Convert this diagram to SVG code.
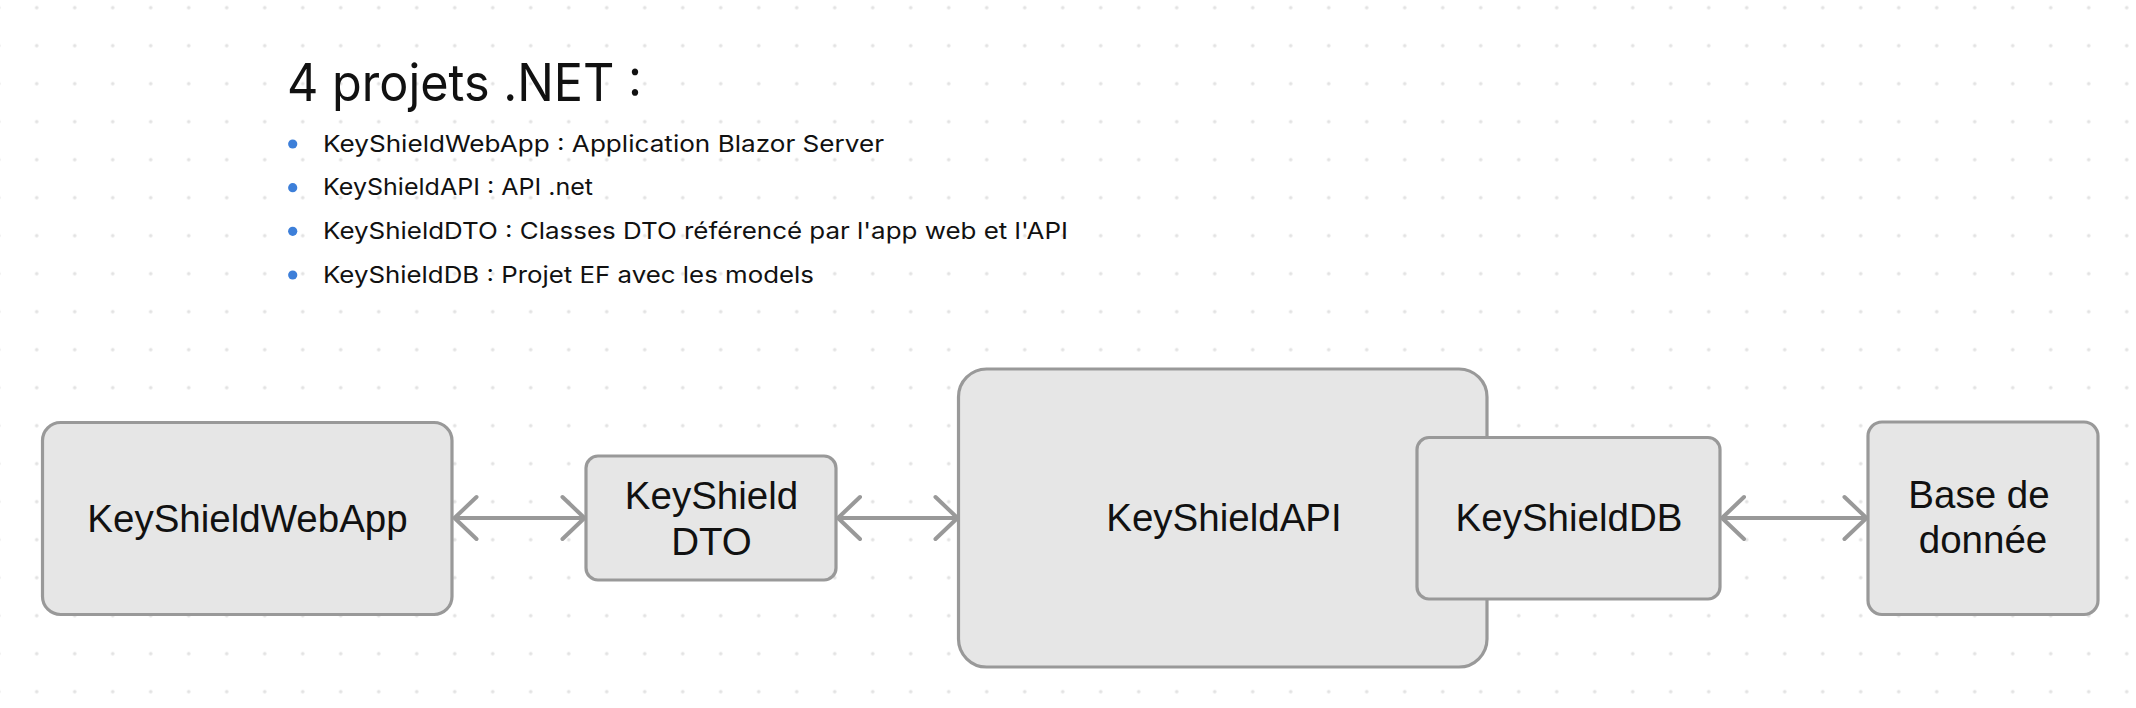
<svg xmlns="http://www.w3.org/2000/svg" width="2136" height="708" viewBox="0 0 2136 708">
<defs>
  <pattern id="dots" x="17.7" y="-11.3" width="38" height="38" patternUnits="userSpaceOnUse">
    <circle cx="19" cy="19" r="1.8" fill="#e2e2e2"/>
  </pattern>
  <marker id="chev" markerUnits="userSpaceOnUse" markerWidth="32" markerHeight="52" viewBox="-28 -26 32 52" refX="0" refY="0" orient="auto-start-reverse">
    <path d="M-22,-21 L0,0 L-22,21" fill="none" stroke="#999999" stroke-width="4" stroke-linecap="round" stroke-linejoin="round"/>
  </marker>
  <style>
    .box { fill: #e6e6e6; stroke: #999999; stroke-width: 3.2; }
    .lbl { font-family: "Liberation Sans", Arial, sans-serif; font-size: 38.5px; fill: #111111; text-anchor: middle; }
    .title { font-family: Inter, "Noto Sans", sans-serif; font-size: 52px; fill: #111111; }
    .item { font-family: Inter, "Noto Sans", sans-serif; font-size: 23px; fill: #111111; }
    .bullet { fill: #3d7fd9; }
    .conn { stroke: #999999; stroke-width: 4; fill: none; marker-start: url(#chev); marker-end: url(#chev); }
  </style>
</defs>
<rect width="2136" height="708" fill="#ffffff"/>
<rect width="2136" height="708" fill="url(#dots)"/>

<g id="notes">
  <text class="title" x="287" y="101" textLength="355" lengthAdjust="spacingAndGlyphs">4 projets .NET :</text>
  <circle class="bullet" cx="292.7" cy="144" r="4.6"/>
  <text class="item" x="323" y="151.5" textLength="561" lengthAdjust="spacingAndGlyphs">KeyShieldWebApp : Application Blazor Server</text>
  <circle class="bullet" cx="292.7" cy="187.7" r="4.6"/>
  <text class="item" x="323" y="195" textLength="270" lengthAdjust="spacingAndGlyphs">KeyShieldAPI : API .net</text>
  <circle class="bullet" cx="292.7" cy="231.3" r="4.6"/>
  <text class="item" x="323" y="238.7" textLength="745" lengthAdjust="spacingAndGlyphs">KeyShieldDTO : Classes DTO référencé par l'app web et l'API</text>
  <circle class="bullet" cx="292.7" cy="275" r="4.6"/>
  <text class="item" x="323" y="282.5" textLength="491" lengthAdjust="spacingAndGlyphs">KeyShieldDB : Projet EF avec les models</text>
</g>

<g id="connectors">
  <line class="conn" x1="454.5" y1="518" x2="584.5" y2="518"/>
  <line class="conn" x1="838" y1="518" x2="957.5" y2="518"/>
  <line class="conn" x1="1722" y1="518" x2="1866.5" y2="518"/>
</g>

<g id="webapp">
  <rect class="box" x="42.5" y="422.5" width="409.5" height="192" rx="18"/>
  <text class="lbl" x="247.5" y="531.5">KeyShieldWebApp</text>
</g>

<g id="dto">
  <rect class="box" x="586" y="456" width="250" height="124" rx="12"/>
  <text class="lbl" x="711.5" y="509">KeyShield</text>
  <text class="lbl" x="711.5" y="555">DTO</text>
</g>

<g id="api">
  <rect class="box" x="958.5" y="369" width="528.5" height="298" rx="28"/>
  <text class="lbl" x="1224" y="531">KeyShieldAPI</text>
</g>

<g id="db">
  <rect class="box" x="1417" y="437.5" width="303" height="161.5" rx="12"/>
  <text class="lbl" x="1569" y="531">KeyShieldDB</text>
</g>

<g id="basededonnee">
  <rect class="box" x="1868" y="422" width="230" height="192.5" rx="14"/>
  <text class="lbl" x="1979" y="507.5">Base de</text>
  <text class="lbl" x="1983" y="553">donnée</text>
</g>
</svg>
